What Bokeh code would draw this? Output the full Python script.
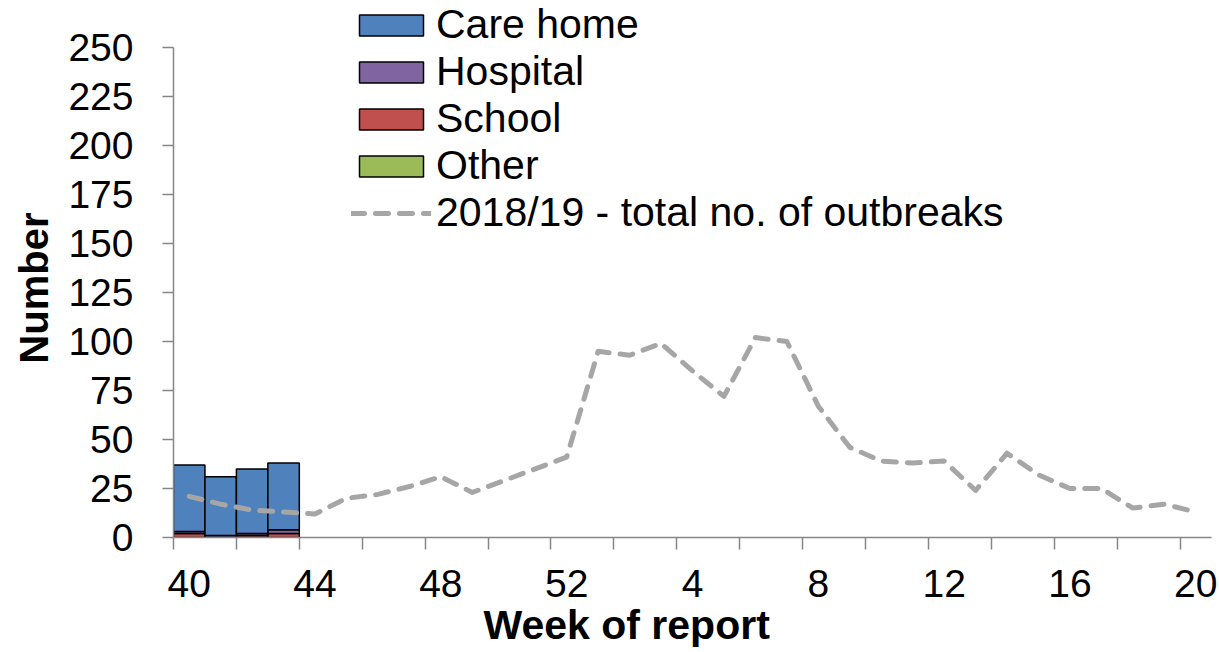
from bokeh.plotting import figure
from bokeh.models import FixedTicker, Legend, LegendItem, Range1d, ColumnDataSource, Title
from bokeh.embed import file_html
from bokeh.resources import INLINE

# ---- data ----
weeks = [40, 41, 42, 43, 44, 45, 46, 47, 48, 49, 50, 51, 52,
         1, 2, 3, 4, 5, 6, 7, 8, 9, 10, 11, 12, 13, 14, 15, 16, 17, 18, 19, 20]
total_2018_19 = [21, 17, 14, 13, 12, 20, 22, 26, 31, 23, 29, 35, 41,
                 95, 93, 99, 85, 72, 102, 100, 67, 46, 39, 38, 39, 24, 43, 32, 25, 25, 15, 17, 13]
current_weeks = [40, 41, 42, 43]
care_home = [34, 30, 33, 34]
hospital = [1, 1, 1, 2]
school = [2, 0, 1, 2]
other = [0, 0, 0, 0]
series_names = ["Care home", "Hospital", "School", "Other"]
series_colors = ["#4F81BD", "#8064A2", "#C0504D", "#9BBB59"]
y_ticks = [0, 25, 50, 75, 100, 125, 150, 175, 200, 225, 250]
y_max = 250
label_every = 4
tick_every = 2

FONT = "Liberation Sans"
AXIS_GRAY = "#868686"

# layout: frame reaches the top of the canvas so the legend (which sits
# above the 250 line) is not clipped; the axis itself is bounded to 0..250
FRAME_BOTTOM = 537
TOP_OF_AXIS = 47
units_per_px = y_max / (FRAME_BOTTOM - TOP_OF_AXIS)
y_top = FRAME_BOTTOM * units_per_px

idx = {w: i for i, w in enumerate(weeks)}
bar_x = [idx[w] + 0.5 for w in current_weeks]
bar_src = ColumnDataSource(dict(x=bar_x, other=other, school=school,
                                hospital=hospital, care_home=care_home))
line_src = ColumnDataSource(dict(x=[i + 0.5 for i in range(len(weeks))], y=total_2018_19))

p = figure(width=1219, height=652, output_backend="svg", toolbar_location=None,
           x_range=Range1d(0, len(weeks)), y_range=Range1d(0, y_top),
           min_border_left=173, min_border_right=8, min_border_top=0,
           min_border_bottom=652 - FRAME_BOTTOM)
p.outline_line_color = None
p.grid.visible = False
p.background_fill_color = "white"

stack_keys = ["other", "school", "hospital", "care_home"]
stack_colors = [series_colors[3], series_colors[2], series_colors[1], series_colors[0]]
bars = p.vbar_stack(stack_keys, x="x", width=1.0, source=bar_src,
                    fill_color=stack_colors, line_color="black", line_width=1.5)
rend = dict(zip(stack_keys, bars))

line = p.line("x", "y", source=line_src, line_color="#A6A6A6", line_width=5,
              line_dash="13 11", line_cap="round", line_join="round")

legend = Legend(items=[
    LegendItem(label=series_names[0], renderers=[rend["care_home"]]),
    LegendItem(label=series_names[1], renderers=[rend["hospital"]]),
    LegendItem(label=series_names[2], renderers=[rend["school"]]),
    LegendItem(label=series_names[3], renderers=[rend["other"]]),
    LegendItem(label="2018/19 - total no. of outbreaks", renderers=[line]),
], location=(178, 301))
legend.glyph_width = 80
legend.glyph_height = 26
legend.label_height = 46
legend.spacing = 0
legend.padding = 0
legend.margin = 0
legend.label_standoff = 5
legend.border_line_alpha = 0
legend.background_fill_alpha = 0
legend.label_text_font = FONT
legend.label_text_font_size = "41px"
legend.label_text_color = "black"
p.add_layout(legend, "center")

# x axis
xa = p.xaxis[0]
xa.ticker = FixedTicker(ticks=[i + 0.5 for i in range(0, len(weeks), label_every)],
                        minor_ticks=[float(i) for i in range(0, len(weeks) + 1, tick_every)])
xa.major_label_overrides = {i + 0.5: str(weeks[i]) for i in range(0, len(weeks), label_every)}
xa.major_tick_out = 0
xa.major_tick_in = 0
xa.minor_tick_out = 12
xa.minor_tick_in = 0
xa.minor_tick_line_color = AXIS_GRAY
xa.minor_tick_line_width = 1.5
xa.axis_line_color = AXIS_GRAY
xa.axis_line_width = 1.5
xa.major_label_text_font = FONT
xa.major_label_text_font_size = "39px"
xa.major_label_text_color = "black"
xa.major_label_standoff = 20

xtitle = Title(text="Week of report", align="left", offset=310, standoff=0,
               text_font=FONT, text_font_size="41px", text_font_style="bold",
               text_color="black")
p.add_layout(xtitle, "below")

ya = p.yaxis[0]
ya.ticker = FixedTicker(ticks=y_ticks, minor_ticks=[])
ya.bounds = (0, y_max)
ya.major_tick_out = 11
ya.major_tick_in = 0
ya.major_tick_line_color = AXIS_GRAY
ya.major_tick_line_width = 1.5
ya.minor_tick_out = 0
ya.minor_tick_in = 0
ya.axis_line_color = AXIS_GRAY
ya.axis_line_width = 1.5
ya.major_label_text_font = FONT
ya.major_label_text_font_size = "39px"
ya.major_label_text_color = "black"
ya.major_label_standoff = 29

ytitle = Title(text="Number", align="right", offset=212, standoff=19,
               text_font=FONT, text_font_size="40px", text_font_style="bold",
               text_color="black")
p.add_layout(ytitle, "left")

open("out.html", "w").write(file_html(p, INLINE))
